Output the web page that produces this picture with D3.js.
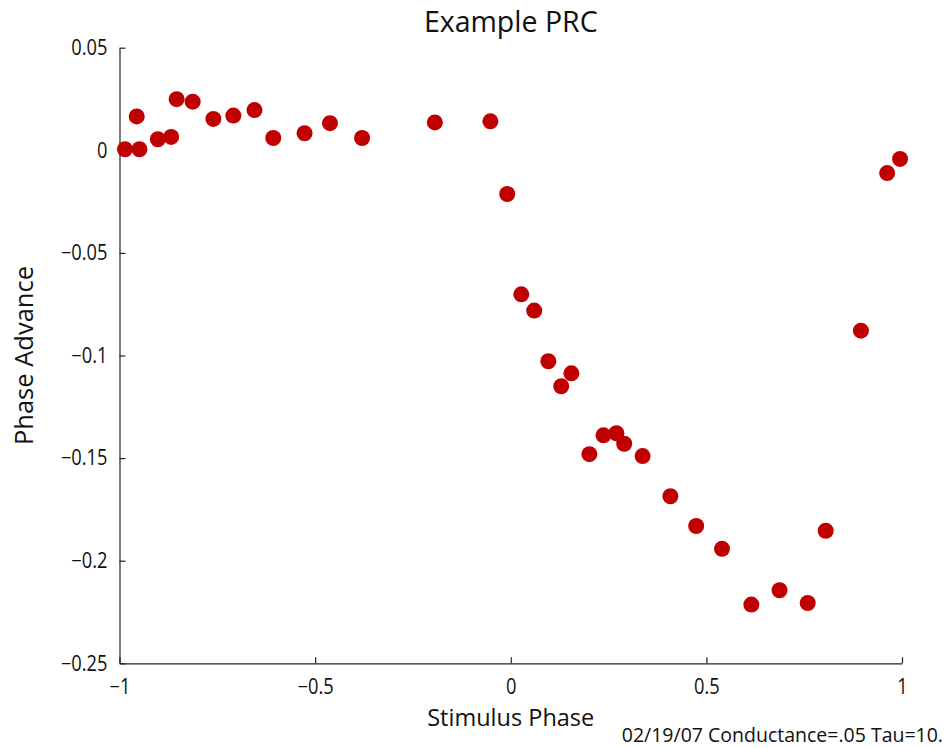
<!DOCTYPE html>
<html>
<head>
<meta charset="utf-8">
<script src="https://cdn.jsdelivr.net/npm/d3@7/dist/d3.min.js"></script>
<style>
  html, body { margin: 0; padding: 0; background: #ffffff; }
  svg { display: block; }
  text { font-family: "Open Sans", "Noto Sans", sans-serif; fill: #111; }
</style>
</head>
<body>
<svg id="chart" width="946" height="748"></svg>
<script>
// Phase response curve: stimulus phase vs. phase advance
const stimulusPhase = [
  -0.986, -0.956, -0.949, -0.902, -0.868, -0.854, -0.813, -0.760, -0.709, -0.655,
  -0.607, -0.527, -0.462, -0.380, -0.194, -0.052, -0.009, 0.027, 0.060, 0.096,
  0.129, 0.155, 0.201, 0.237, 0.270, 0.290, 0.337, 0.408, 0.474, 0.540,
  0.615, 0.687, 0.759, 0.805, 0.895, 0.962, 0.995
];
const phaseAdvance = [
  0.0005, 0.0165, 0.0005, 0.0054, 0.0065, 0.0249, 0.0237, 0.0153, 0.0169, 0.0196,
  0.0060, 0.0083, 0.0132, 0.0060, 0.0136, 0.0141, -0.0213, -0.0702, -0.0781, -0.1028,
  -0.1150, -0.1087, -0.1481, -0.1389, -0.1379, -0.1430, -0.1490, -0.1686, -0.1831, -0.1942,
  -0.2214, -0.2144, -0.2206, -0.1854, -0.0879, -0.0111, -0.0042
];
const xTicks = [-1, -0.5, 0, 0.5, 1];
const yTicks = [0.05, 0, -0.05, -0.1, -0.15, -0.2, -0.25];

const titleText = "Example PRC";
const xLabelText = "Stimulus Phase";
const yLabelText = "Phase Advance";
const footerText = "02/19/07 Conductance=.05 Tau=10.";

const svg = d3.select("#chart");
const plotLeft = 119.5, plotRight = 902, plotTop = 47.7, plotBottom = 663.3;

const x = d3.scaleLinear().domain([-1, 1]).range([plotLeft, plotRight]);
const y = d3.scaleLinear().domain([-0.25, 0.05]).range([plotBottom, plotTop]);

// tick labels with a true minus sign
const fmt = v => {
  const s = String(+v.toFixed(2));
  return s.startsWith("-") ? "\u2212" + s.slice(1) : s;
};

// narrow the glyphs horizontally for a condensed sans look
function squeeze(sel, factor) {
  sel.each(function () {
    const w = this.getComputedTextLength();
    d3.select(this).attr("textLength", w * factor).attr("lengthAdjust", "spacingAndGlyphs");
  });
}

// x axis with inward ticks
const xAxis = d3.axisBottom(x).tickValues(xTicks).tickSizeInner(-6).tickSizeOuter(0)
  .tickPadding(16).tickFormat(fmt);
const gx = svg.append("g").attr("transform", `translate(0,${plotBottom})`).call(xAxis);
gx.select(".domain").attr("stroke", "#222").attr("stroke-width", 1.2);
gx.selectAll(".tick line").attr("stroke", "#222").attr("stroke-width", 1.2);
gx.selectAll(".tick text").attr("font-size", 21).attr("font-family", "Open Sans, Noto Sans, sans-serif")
  .attr("fill", "#111").call(squeeze, 0.87);

// y axis with inward ticks
const yAxis = d3.axisLeft(y).tickValues(yTicks).tickSizeInner(-6).tickSizeOuter(0)
  .tickPadding(12).tickFormat(fmt);
const gy = svg.append("g").attr("transform", `translate(${plotLeft},0)`).call(yAxis);
gy.select(".domain").attr("stroke", "#222").attr("stroke-width", 1.2);
gy.selectAll(".tick line").attr("stroke", "#222").attr("stroke-width", 1.2);
gy.selectAll(".tick text").attr("font-size", 21).attr("font-family", "Open Sans, Noto Sans, sans-serif")
  .attr("fill", "#111").call(squeeze, 0.87);

// markers
const pts = stimulusPhase.map((v, i) => ({ sx: v, pa: phaseAdvance[i] }));
svg.append("g").selectAll("circle").data(pts).join("circle")
  .attr("cx", d => x(d.sx))
  .attr("cy", d => y(d.pa))
  .attr("r", 8)
  .attr("fill", "#c00000");

// titles and labels
svg.append("text").attr("x", (plotLeft + plotRight) / 2).attr("y", 32)
  .attr("text-anchor", "middle").attr("font-size", 28.5).text(titleText);
svg.append("text").attr("x", (plotLeft + plotRight) / 2).attr("y", 726)
  .attr("text-anchor", "middle").attr("font-size", 23.5).text(xLabelText);
svg.append("text").attr("transform", `translate(33,${(plotTop + plotBottom) / 2}) rotate(-90)`)
  .attr("text-anchor", "middle").attr("font-size", 25.5).text(yLabelText);
svg.append("text").attr("x", 943).attr("y", 742)
  .attr("text-anchor", "end").attr("font-size", 19.5).text(footerText);
</script>
</body>
</html>
